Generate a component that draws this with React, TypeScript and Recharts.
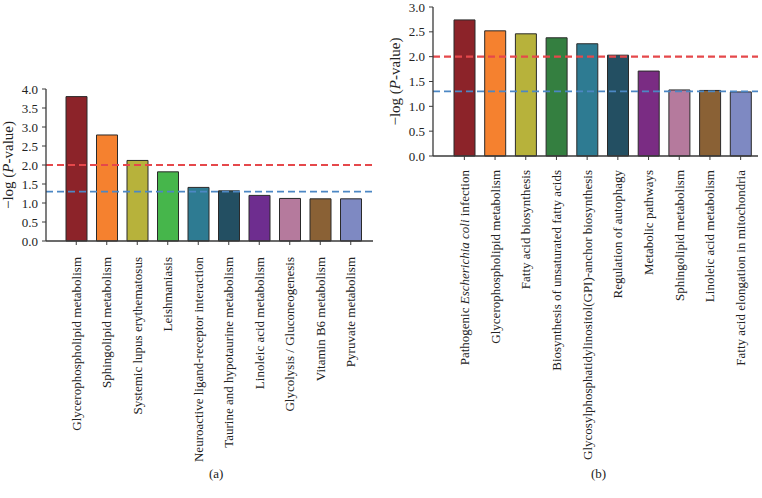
import React from "react";
import { BarChart, Bar, XAxis, YAxis, Cell, ReferenceLine, Label } from "recharts";

const LEFT_PATHWAYS = [
  "Glycerophospholipid metabolism",
  "Sphingolipid metabolism",
  "Systemic lupus erythematosus",
  "Leishmaniasis",
  "Neuroactive ligand-receptor interaction",
  "Taurine and hypotaurine metabolism",
  "Linoleic acid metabolism",
  "Glycolysis / Gluconeogenesis",
  "Vitamin B6 metabolism",
  "Pyruvate metabolism",
];
const LEFT_VALUES = [3.8, 2.79, 2.12, 1.82, 1.41, 1.32, 1.2, 1.12, 1.11, 1.11];
const LEFT_COLORS = ["#8c2329", "#f5812f", "#b7b23b", "#46b64b", "#2e7b92", "#234f62", "#6e2d8f", "#b57a9d", "#8a6135", "#7e89c2"];
const LEFT_TICKS = [0, 0.5, 1, 1.5, 2, 2.5, 3, 3.5, 4];

// "*...*" marks the italic part of a name
const RIGHT_PATHWAYS = [
  "Pathogenic *Escherichia coli* infection",
  "Glycerophospholipid metabolism",
  "Fatty acid biosynthesis",
  "Biosynthesis of unsaturated fatty acids",
  "Glycosylphosphatidylinositol(GPI)-anchor biosynthesis",
  "Regulation of autophagy",
  "Metabolic pathways",
  "Sphingolipid metabolism",
  "Linoleic acid metabolism",
  "Fatty acid elongation in mitochondria",
];
const RIGHT_VALUES = [2.74, 2.52, 2.46, 2.38, 2.26, 2.03, 1.71, 1.33, 1.32, 1.29];
const RIGHT_COLORS = ["#8c2329", "#f5812f", "#b7b23b", "#347f40", "#2e7b92", "#234f62", "#7a2c83", "#b57a9d", "#8a6135", "#7e89c2"];
const RIGHT_TICKS = [0, 0.5, 1, 1.5, 2, 2.5, 3];

const THRESHOLD_RED = 2; // p = 0.01
const THRESHOLD_BLUE = 1.3; // p = 0.05

const FONT = "'Liberation Serif', 'DejaVu Serif', serif";
const AXIS = "#3a3a3a";

function PathwayTick(props: any) {
  const { x, y, payload, gap } = props;
  const parts = String(payload.value).split("*");
  return (
    <text
      x={x}
      y={y + gap}
      transform={`rotate(-90, ${x}, ${y + gap})`}
      textAnchor="end"
      dy="0.35em"
      fontFamily={FONT}
      fontSize={13}
      fill="#222"
    >
      {parts.map((p, i) => (
        <tspan key={i} fontStyle={i % 2 === 1 ? "italic" : "normal"}>
          {p}
        </tspan>
      ))}
    </text>
  );
}

function YTitle(props: any) {
  const vb = props.viewBox || {};
  const cx = vb.x - 2;
  const cy = vb.y + vb.height / 2;
  return (
    <text
      x={cx}
      y={cy}
      transform={`rotate(-90, ${cx}, ${cy})`}
      textAnchor="middle"
      dy="0.35em"
      fontFamily={FONT}
      fontSize={15}
      fill="#222"
    >
      −log (<tspan fontStyle="italic">P</tspan>-value)
    </text>
  );
}

function PathwayChart({
  names,
  values,
  colors,
  ticks,
  width,
  height,
  margin,
  xHeight,
  xPadding,
  labelGap,
}: {
  names: string[];
  values: number[];
  colors: string[];
  ticks: number[];
  width: number;
  height: number;
  margin: { top: number; right: number; bottom: number; left: number };
  xHeight: number;
  xPadding: { left: number; right: number };
  labelGap: number;
}) {
  const data = names.map((name, i) => ({ name, value: values[i] }));
  const max = ticks[ticks.length - 1];
  return (
    <BarChart width={width} height={height} data={data} margin={margin} style={{ overflow: "visible" }}>
      <XAxis
        dataKey="name"
        interval={0}
        height={xHeight}
        padding={xPadding}
        tickSize={4}
        tickLine={{ stroke: AXIS }}
        axisLine={{ stroke: AXIS, strokeWidth: 1.3 }}
        tick={<PathwayTick gap={labelGap} />}
      />
      <XAxis xAxisId="top" orientation="top" dataKey="name" height={0} tick={false} tickLine={false} axisLine={{ stroke: AXIS, strokeWidth: 1.3 }} />
      <YAxis
        domain={[0, max]}
        ticks={ticks}
        interval={0}
        width={36}
        tickSize={4}
        tickMargin={4}
        tickFormatter={(v: number) => v.toFixed(1)}
        tick={{ fontFamily: FONT, fontSize: 13, fill: "#222" }}
        tickLine={{ stroke: AXIS }}
        axisLine={{ stroke: AXIS, strokeWidth: 1.3 }}
      >
        <Label content={<YTitle />} />
      </YAxis>
      <YAxis yAxisId="right" orientation="right" width={0} tick={false} tickLine={false} axisLine={{ stroke: AXIS, strokeWidth: 1.3 }} />
      <Bar dataKey="value" barSize={21} stroke="#2a2a2a" strokeWidth={1} isAnimationActive={false}>
        {data.map((_, i) => (
          <Cell key={i} fill={colors[i % colors.length]} />
        ))}
      </Bar>
      <ReferenceLine y={THRESHOLD_RED} stroke="#e5484b" strokeWidth={2.2} strokeDasharray="7 4" />
      <ReferenceLine y={THRESHOLD_BLUE} stroke="#4c87c4" strokeWidth={1.8} strokeDasharray="7 4" />
    </BarChart>
  );
}

export default function App() {
  return (
    <div style={{ position: "absolute", left: 0, top: 0, width: 762, height: 498, background: "#fff", fontFamily: FONT }}>
      <div style={{ position: "absolute", left: 0, top: 0 }}>
        <PathwayChart
          names={LEFT_PATHWAYS}
          values={LEFT_VALUES}
          colors={LEFT_COLORS}
          ticks={LEFT_TICKS}
          width={380}
          height={480}
          margin={{ top: 89, right: 7, bottom: 39, left: 10 }}
          xHeight={200}
          xPadding={{ left: 15, right: 7 }}
          labelGap={10}
        />
      </div>
      <div style={{ position: "absolute", left: 380, top: 0 }}>
        <PathwayChart
          names={RIGHT_PATHWAYS}
          values={RIGHT_VALUES}
          colors={RIGHT_COLORS}
          ticks={RIGHT_TICKS}
          width={382}
          height={480}
          margin={{ top: 7, right: 4, bottom: 24, left: 17 }}
          xHeight={300}
          xPadding={{ left: 16, right: 2 }}
          labelGap={8}
        />
      </div>
      <div style={{ position: "absolute", left: 209, top: 466, fontSize: 13, color: "#222" }}>(a)</div>
      <div style={{ position: "absolute", left: 591, top: 466, fontSize: 13, color: "#222" }}>(b)</div>
    </div>
  );
}
